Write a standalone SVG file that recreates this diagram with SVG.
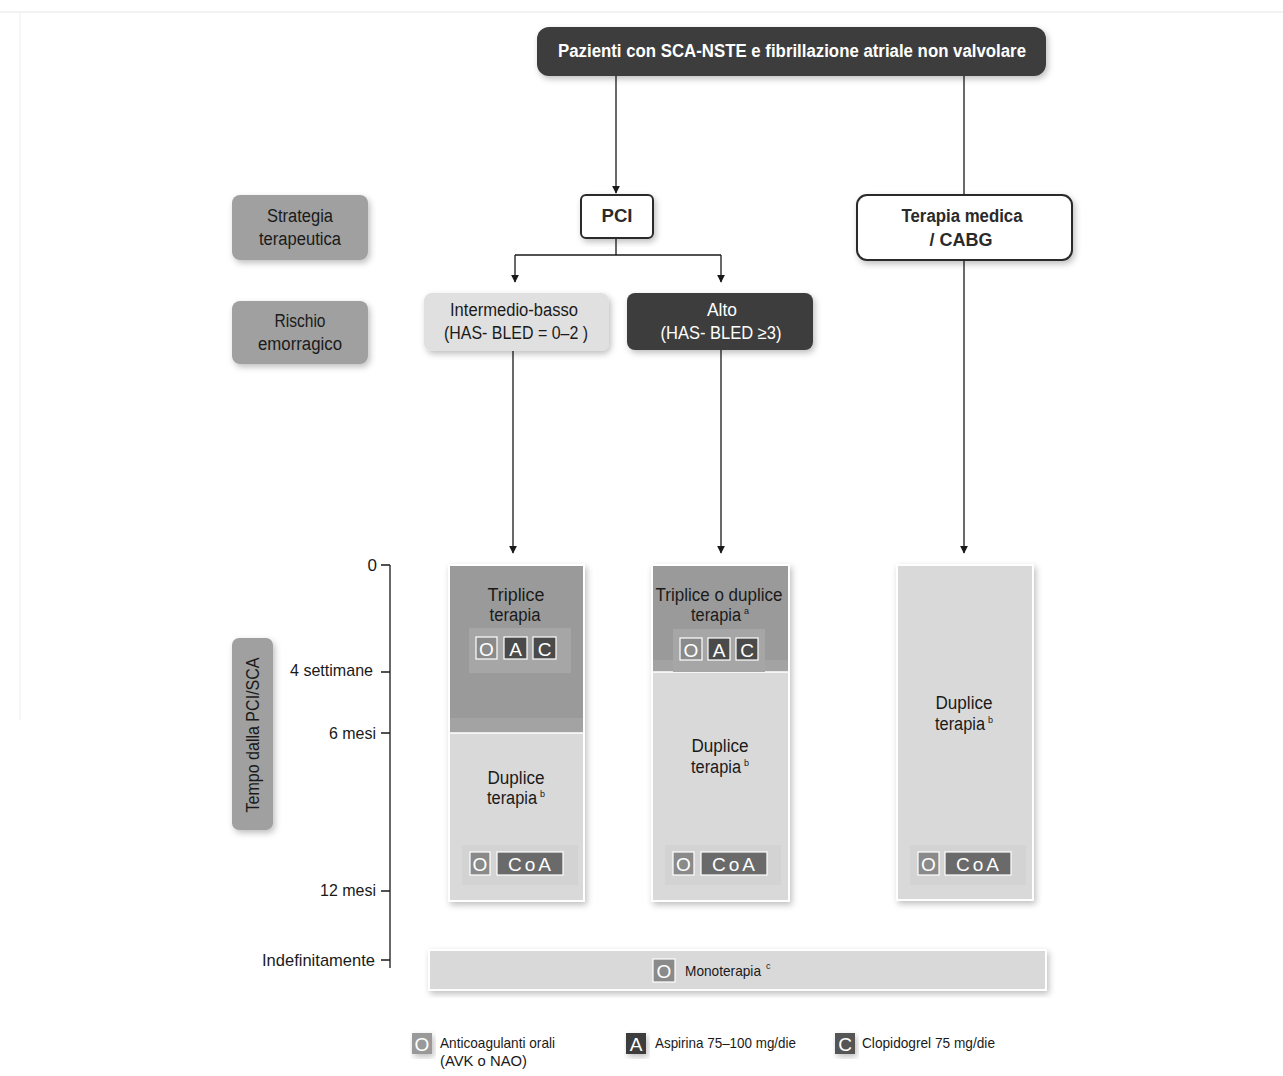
<svg xmlns="http://www.w3.org/2000/svg" width="1283" height="1076" viewBox="0 0 1283 1076">
<style>
text{font-family:"Liberation Sans",Arial,sans-serif;}
.t{font-size:18px;fill:#1a1a1a;text-anchor:middle;}
.tb{font-size:18px;font-weight:bold;fill:#2a2a2a;text-anchor:middle;}
.w{fill:#ffffff;}
.ax{font-size:17px;fill:#1a1a1a;text-anchor:end;}
.lg{font-size:15px;fill:#1a1a1a;}
.sup{font-size:9px;fill:#1a1a1a;}
.bd{font-size:19px;fill:#ffffff;text-anchor:middle;}
.ln{stroke:#1a1a1a;stroke-width:1.3;fill:none;}
.lab{fill:#a0a0a0;}
.col{stroke:#ffffff;stroke-width:2;}
</style>
<defs>
<filter id="sh" x="-10%" y="-10%" width="130%" height="130%">
<feDropShadow dx="2" dy="3" stdDeviation="3" flood-color="#000" flood-opacity="0.25"/>
</filter>
<marker id="ar" viewBox="0 0 10 10" refX="9" refY="5" markerWidth="8" markerHeight="8" markerUnits="userSpaceOnUse" orient="auto">
<path d="M0,0 L10,5 L0,10 z" fill="#1a1a1a"/>
</marker>
</defs>
<rect x="0" y="0" width="1283" height="1076" fill="#ffffff"/>
<line x1="0" y1="12" x2="1283" y2="12" stroke="#e6e6e6" stroke-width="1"/>
<line x1="20" y1="12" x2="20" y2="720" stroke="#efefef" stroke-width="1"/>

<g id="connectors">
<path class="ln" d="M616,76 V193" marker-end="url(#ar)"/>
<path class="ln" d="M964,76 V195"/>
<path class="ln" d="M616,238 V255 M515,255 H721"/>
<path class="ln" d="M515,255 V282" marker-end="url(#ar)"/>
<path class="ln" d="M721,255 V282" marker-end="url(#ar)"/>
<path class="ln" d="M513,351 V553" marker-end="url(#ar)"/>
<path class="ln" d="M721,350 V553" marker-end="url(#ar)"/>
<path class="ln" d="M964,260 V553" marker-end="url(#ar)"/>
</g>

<g id="top">
<rect x="537" y="27" width="509" height="49" rx="12" fill="#3d3d3d" filter="url(#sh)"/>
<text x="792" y="57" class="tb w" textLength="468" lengthAdjust="spacingAndGlyphs">Pazienti con SCA-NSTE e fibrillazione atriale non valvolare</text>
</g>

<g id="pci">
<rect x="581" y="195" width="72" height="43" rx="5" fill="#fff" stroke="#2a2a2a" stroke-width="2" filter="url(#sh)"/>
<text x="617" y="222" class="tb" textLength="31" lengthAdjust="spacingAndGlyphs">PCI</text>
</g>

<g id="terapia-medica">
<rect x="857" y="195" width="215" height="65" rx="10" fill="#fff" stroke="#2a2a2a" stroke-width="2" filter="url(#sh)"/>
<text x="962" y="222" class="tb" textLength="121" lengthAdjust="spacingAndGlyphs">Terapia medica</text>
<text x="961" y="246" class="tb" textLength="63" lengthAdjust="spacingAndGlyphs">/ CABG</text>
</g>

<g id="strategia">
<rect x="232" y="195" width="136" height="65" rx="8" class="lab" filter="url(#sh)"/>
<text x="300" y="222" class="t" textLength="66" lengthAdjust="spacingAndGlyphs">Strategia</text>
<text x="300" y="245" class="t" textLength="82" lengthAdjust="spacingAndGlyphs">terapeutica</text>
</g>

<g id="rischio">
<rect x="232" y="301" width="136" height="63" rx="8" class="lab" filter="url(#sh)"/>
<text x="300" y="327" class="t" textLength="51" lengthAdjust="spacingAndGlyphs">Rischio</text>
<text x="300" y="350" class="t" textLength="84" lengthAdjust="spacingAndGlyphs">emorragico</text>
</g>

<g id="intermedio">
<rect x="424" y="293" width="185" height="58" rx="8" fill="#e0e0e0" filter="url(#sh)"/>
<text x="514" y="316" class="t" textLength="128" lengthAdjust="spacingAndGlyphs">Intermedio-basso</text>
<text x="516" y="339" class="t" textLength="144" lengthAdjust="spacingAndGlyphs">(HAS- BLED = 0–2 )</text>
</g>

<g id="alto">
<rect x="627" y="293" width="186" height="57" rx="8" fill="#3d3d3d" filter="url(#sh)"/>
<text x="722" y="316" class="t w" textLength="30" lengthAdjust="spacingAndGlyphs">Alto</text>
<text x="721" y="339" class="t w" textLength="121" lengthAdjust="spacingAndGlyphs">(HAS- BLED  ≥3)</text>
</g>

<g id="asse">
<path class="ln" d="M390,565 V968 M381,565 H390 M381,672 H390 M381,733 H390 M381,891 H390 M381,960 H390"/>
<text x="377" y="571" class="ax">0</text>
<text x="373" y="676" class="ax" textLength="83" lengthAdjust="spacingAndGlyphs">4 settimane</text>
<text x="376" y="739" class="ax" textLength="47" lengthAdjust="spacingAndGlyphs">6 mesi</text>
<text x="376" y="896" class="ax" textLength="56" lengthAdjust="spacingAndGlyphs">12 mesi</text>
<text x="375" y="966" class="ax" textLength="113" lengthAdjust="spacingAndGlyphs">Indefinitamente</text>
</g>

<g id="tempo">
<rect x="232" y="638" width="41" height="192" rx="7" class="lab" filter="url(#sh)"/>
<text transform="translate(259,735) rotate(-90)" class="t" textLength="155" lengthAdjust="spacingAndGlyphs">Tempo dalla  PCI/SCA</text>
</g>

<g id="col1">
<rect x="449" y="565" width="135" height="336" fill="#d9d9d9" class="col" filter="url(#sh)"/>
<rect x="450" y="566" width="133" height="167" fill="#9a9a9a"/>
<rect x="450" y="718" width="133" height="15" fill="#a3a3a3"/>
<line x1="450" y1="733" x2="583" y2="733" stroke="#fff" stroke-width="1.5"/>
<text x="516" y="601" class="t" textLength="57" lengthAdjust="spacingAndGlyphs">Triplice</text>
<text x="515" y="621" class="t" textLength="51" lengthAdjust="spacingAndGlyphs">terapia</text>
<rect x="469" y="628" width="102" height="45" fill="#a6a6a6"/>
<rect x="476" y="637" width="21" height="22" fill="#8a8a8a" stroke="#fff" stroke-width="1.2"/>
<text x="486.5" y="655.5" class="bd">O</text>
<rect x="504" y="637" width="23" height="22" fill="#4a4a4a" stroke="#fff" stroke-width="1.2"/>
<text x="515.5" y="655.5" class="bd">A</text>
<rect x="533" y="637" width="23" height="22" fill="#4a4a4a" stroke="#fff" stroke-width="1.2"/>
<text x="544.5" y="655.5" class="bd">C</text>
<text x="516" y="784" class="t" textLength="57" lengthAdjust="spacingAndGlyphs">Duplice</text>
<text x="512" y="804" class="t" textLength="50" lengthAdjust="spacingAndGlyphs">terapia</text>
<text x="540" y="797" class="sup">b</text>
<rect x="462" y="845" width="116" height="40" fill="#d3d3d3"/>
<rect x="470" y="852" width="20" height="23" fill="#8a8a8a" stroke="#fff" stroke-width="1.2"/>
<text x="480" y="871" class="bd">O</text>
<rect x="497" y="852" width="66" height="23" fill="#6a6a6a" stroke="#fff" stroke-width="1.2"/>
<text x="531" y="871" class="bd" letter-spacing="3">CoA</text>
</g>

<g id="col2">
<rect x="652" y="565" width="137" height="336" fill="#d9d9d9" class="col" filter="url(#sh)"/>
<rect x="653" y="566" width="135" height="106" fill="#9a9a9a"/>
<rect x="653" y="660" width="135" height="12" fill="#a3a3a3"/>
<line x1="653" y1="672" x2="788" y2="672" stroke="#fff" stroke-width="1.5"/>
<text x="719" y="601" class="t" textLength="127" lengthAdjust="spacingAndGlyphs">Triplice o duplice</text>
<text x="716" y="621" class="t" textLength="50" lengthAdjust="spacingAndGlyphs">terapia</text>
<text x="744" y="614" class="sup">a</text>
<rect x="673" y="629" width="92" height="43" fill="#a6a6a6"/>
<rect x="680" y="638" width="22" height="22" fill="#8a8a8a" stroke="#fff" stroke-width="1.2"/>
<text x="691" y="656.5" class="bd">O</text>
<rect x="708" y="638" width="22" height="22" fill="#4a4a4a" stroke="#fff" stroke-width="1.2"/>
<text x="719" y="656.5" class="bd">A</text>
<rect x="736" y="638" width="22" height="22" fill="#4a4a4a" stroke="#fff" stroke-width="1.2"/>
<text x="747" y="656.5" class="bd">C</text>
<text x="720" y="752" class="t" textLength="57" lengthAdjust="spacingAndGlyphs">Duplice</text>
<text x="716" y="773" class="t" textLength="50" lengthAdjust="spacingAndGlyphs">terapia</text>
<text x="744" y="766" class="sup">b</text>
<rect x="665" y="845" width="116" height="40" fill="#d3d3d3"/>
<rect x="673" y="852" width="21" height="23" fill="#8a8a8a" stroke="#fff" stroke-width="1.2"/>
<text x="683.5" y="871" class="bd">O</text>
<rect x="701" y="852" width="66" height="23" fill="#6a6a6a" stroke="#fff" stroke-width="1.2"/>
<text x="735" y="871" class="bd" letter-spacing="3">CoA</text>
</g>

<g id="col3">
<rect x="897" y="565" width="136" height="335" fill="#d9d9d9" class="col" filter="url(#sh)"/>
<text x="964" y="709" class="t" textLength="57" lengthAdjust="spacingAndGlyphs">Duplice</text>
<text x="960" y="730" class="t" textLength="50" lengthAdjust="spacingAndGlyphs">terapia</text>
<text x="988" y="723" class="sup">b</text>
<rect x="910" y="845" width="116" height="40" fill="#d3d3d3"/>
<rect x="918" y="852" width="21" height="23" fill="#8a8a8a" stroke="#fff" stroke-width="1.2"/>
<text x="928.5" y="871" class="bd">O</text>
<rect x="945" y="852" width="66" height="23" fill="#6a6a6a" stroke="#fff" stroke-width="1.2"/>
<text x="979" y="871" class="bd" letter-spacing="3">CoA</text>
</g>

<g id="monoterapia">
<rect x="429" y="950" width="617" height="40" fill="#d9d9d9" class="col" filter="url(#sh)"/>
<rect x="653" y="959" width="22" height="23" fill="#8a8a8a" stroke="#fff" stroke-width="1.2"/>
<text x="664" y="978" class="bd">O</text>
<text x="685" y="976" class="lg" font-size="15" textLength="76" lengthAdjust="spacingAndGlyphs">Monoterapia</text>
<text x="766" y="969" class="sup">c</text>
</g>

<g id="legenda">
<rect x="412" y="1033" width="20" height="21" fill="#999999" filter="url(#sh)"/>
<text x="422" y="1050.5" class="bd" font-size="18">O</text>
<text x="440" y="1048" class="lg" textLength="115" lengthAdjust="spacingAndGlyphs">Anticoagulanti orali</text>
<text x="440" y="1066" class="lg" textLength="87" lengthAdjust="spacingAndGlyphs">(AVK o NAO)</text>
<rect x="626" y="1033" width="20" height="21" fill="#3d3d3d" filter="url(#sh)"/>
<text x="636" y="1050.5" class="bd" font-size="18">A</text>
<text x="655" y="1048" class="lg" textLength="141" lengthAdjust="spacingAndGlyphs">Aspirina 75–100 mg/die</text>
<rect x="835" y="1033" width="20" height="21" fill="#555555" filter="url(#sh)"/>
<text x="845" y="1050.5" class="bd" font-size="18">C</text>
<text x="862" y="1048" class="lg" textLength="133" lengthAdjust="spacingAndGlyphs">Clopidogrel 75 mg/die</text>
</g>
</svg>
